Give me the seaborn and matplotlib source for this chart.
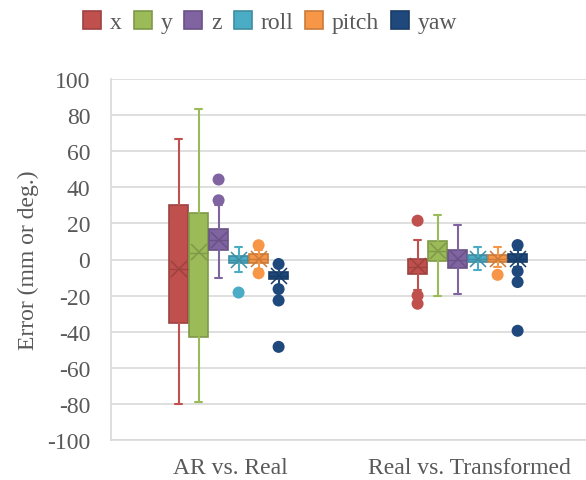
import matplotlib
matplotlib.use("Agg")
import matplotlib.pyplot as plt
from matplotlib.patches import Patch
from matplotlib.colors import to_rgb
import numpy as np
import pandas as pd
import seaborn as sns

# Comparison groups and pose components
groups = ["AR vs. Real", "Real vs. Transformed"]
components = ["x", "y", "z", "roll", "pitch", "yaw"]
colors = ["#C0504D", "#9BBB59", "#8064A2", "#4BACC6", "#F79646", "#1F497D"]

# Box statistics per group, ordered x, y, z, roll, pitch, yaw
ar_whislo = [-80, -79, -10, -7, -5, -15]
ar_q1 = [-35, -43, 5, -2, -2, -11]
ar_med = [-5, 3.5, 11, 0, 0.5, -9]
ar_q3 = [30, 25.5, 17, 2, 3, -6.8]
ar_whishi = [67, 83.5, 30, 7, 5, -4]
ar_mean = [-5, 4, 11, 0, 0.5, -9]
ar_fliers = [[], [], [44.3, 32.8], [-18.3], [7.9, -7.6], [-2.5, -16.4, -22.7, -48.4]]

rt_whislo = [-17, -20, -19, -6, -4, -4]
rt_q1 = [-8, -1, -4.8, -1.5, -1.5, -1.3]
rt_med = [-4, 4.5, 0, 0.5, 0.5, 0.5]
rt_q3 = [0.5, 10.5, 5.2, 2.5, 2.5, 3]
rt_whishi = [11, 24.5, 19, 7, 7, 5]
rt_mean = [-3.5, 4.5, 0.3, 0.5, 0.5, 0.5]
rt_fliers = [[21.5, -20, -24.5], [], [], [], [-8.5], [8, -6.5, -12.5, -39.5]]

y_ticks = list(range(-100, 101, 20))

sns.set_theme(style="white")
plt.rcParams["font.family"] = ["Liberation Serif", "DejaVu Serif"]
text_color = "#595959"
grid_color = "#D9D9D9"
font_size = 17


def darker(c, f=0.82):
    r, g, b = to_rgb(c)
    return (r * f, g * f, b * f)


fig = plt.figure(figsize=(5.86, 4.81), dpi=100)
ax = fig.add_axes([111 / 586, 1 - 441 / 481, 478 / 586, 361 / 481])

step = 0.0837
width = 0.079
group_stats = [
    (ar_whislo, ar_q1, ar_med, ar_q3, ar_whishi, ar_mean, ar_fliers),
    (rt_whislo, rt_q1, rt_med, rt_q3, rt_whishi, rt_mean, rt_fliers),
]

flier_rows = []
for gi, (lo, q1, med, q3, hi, mean, fl) in enumerate(group_stats):
    for ci, comp in enumerate(components):
        pos = gi + (ci - 2.5) * step - 0.008
        col = colors[ci]
        edge = darker(col)
        stats = [dict(whislo=lo[ci], q1=q1[ci], med=med[ci], q3=q3[ci],
                      whishi=hi[ci], mean=mean[ci], fliers=[])]
        ax.bxp(stats, positions=[pos], widths=width, patch_artist=True,
               showmeans=True, showfliers=False, manage_ticks=False,
               boxprops=dict(facecolor=col, edgecolor=edge, linewidth=1.2),
               whiskerprops=dict(color=col, linewidth=1.5),
               capprops=dict(color=col, linewidth=1.5),
               capwidths=width * 0.35,
               medianprops=dict(color=edge, linewidth=1.0),
               meanprops=dict(marker="x", markersize=12, markeredgewidth=1.1,
                              markeredgecolor=edge),
               zorder=3)
        for v in fl[ci]:
            flier_rows.append({"pos": pos, "value": v, "component": comp})

fliers_df = pd.DataFrame(flier_rows)
sns.scatterplot(data=fliers_df, x="pos", y="value", hue="component",
                hue_order=components, palette=colors, s=75, linewidth=0,
                legend=False, ax=ax, zorder=4)

ax.set_xlim(-0.5, 1.5)
ax.set_ylim(-100, 100)
ax.set_yticks(y_ticks)
ax.set_yticklabels([str(t) for t in y_ticks])
ax.set_xticks([0, 1])
ax.set_xticklabels(groups)
ax.set_xlabel("")
ax.set_ylabel("Error (mm or deg.)", fontsize=font_size, color=text_color, labelpad=6)
ax.tick_params(axis="y", labelsize=font_size, colors=text_color, length=0, pad=15)
ax.tick_params(axis="x", labelsize=font_size, colors=text_color, length=0, pad=12)
ax.yaxis.grid(True, color=grid_color, linewidth=1.2)
ax.set_axisbelow(True)
for side in ["top", "right"]:
    ax.spines[side].set_visible(False)
for side in ["left", "bottom"]:
    ax.spines[side].set_color(grid_color)
    ax.spines[side].set_linewidth(1.2)

handles = [Patch(facecolor=c, edgecolor=darker(c), linewidth=1.2, label=n)
           for c, n in zip(colors, components)]
leg = fig.legend(handles=handles, loc="center", bbox_to_anchor=(0.461, 0.952),
                 ncol=6, frameon=False, fontsize=font_size, handlelength=0.76,
                 handleheight=0.76, handletextpad=0.36, columnspacing=0.52,
                 borderaxespad=0)
for t in leg.get_texts():
    t.set_color(text_color)

fig.savefig("out.png", dpi=100)
